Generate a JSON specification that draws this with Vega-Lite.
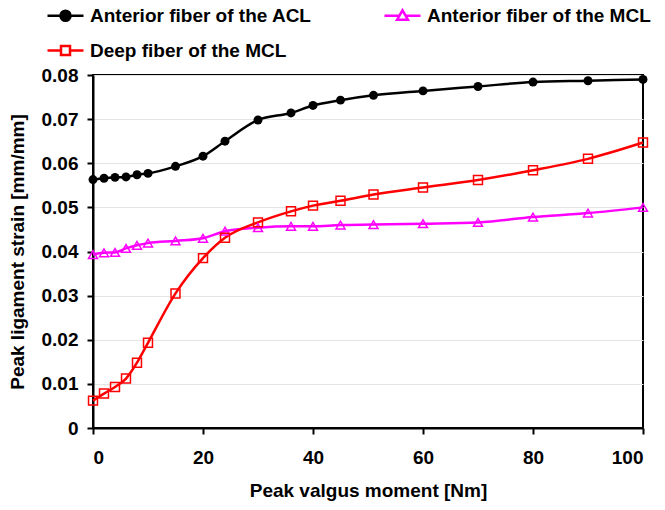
{
  "$schema": "https://vega.github.io/schema/vega-lite/v6.json",
  "autosize": "none",
  "width": 550,
  "height": 353,
  "padding": {"left": 93, "top": 75, "right": 22, "bottom": 82},
  "background": "white",
  "config": {
    "font": "Liberation Sans",
    "view": {"stroke": "black", "strokeWidth": 2},
    "axis": {
      "labelFont": "Liberation Sans", "labelFontWeight": "bold", "labelFontSize": 19, "labelColor": "black",
      "titleFont": "Liberation Sans", "titleFontWeight": "bold", "titleFontSize": 19, "titleColor": "black",
      "domainColor": "black", "domainWidth": 2, "tickColor": "black", "tickWidth": 2, "tickSize": 6
    },
    "legend": {
      "labelFont": "Liberation Sans", "labelFontWeight": "bold", "labelFontSize": 19, "labelColor": "black", "labelLimit": 400
    }
  },
  "data": {
    "values": [
      {"moment": 0, "series": "Anterior fiber of the ACL", "strain": 0.0563},
      {"moment": 2, "series": "Anterior fiber of the ACL", "strain": 0.0566},
      {"moment": 4, "series": "Anterior fiber of the ACL", "strain": 0.0568},
      {"moment": 6, "series": "Anterior fiber of the ACL", "strain": 0.0569},
      {"moment": 8, "series": "Anterior fiber of the ACL", "strain": 0.0574},
      {"moment": 10, "series": "Anterior fiber of the ACL", "strain": 0.0577},
      {"moment": 15, "series": "Anterior fiber of the ACL", "strain": 0.0593},
      {"moment": 20, "series": "Anterior fiber of the ACL", "strain": 0.0616},
      {"moment": 24, "series": "Anterior fiber of the ACL", "strain": 0.065},
      {"moment": 30, "series": "Anterior fiber of the ACL", "strain": 0.0698},
      {"moment": 36, "series": "Anterior fiber of the ACL", "strain": 0.0714},
      {"moment": 40, "series": "Anterior fiber of the ACL", "strain": 0.0731},
      {"moment": 45, "series": "Anterior fiber of the ACL", "strain": 0.0743},
      {"moment": 51, "series": "Anterior fiber of the ACL", "strain": 0.0754},
      {"moment": 60, "series": "Anterior fiber of the ACL", "strain": 0.0764},
      {"moment": 70, "series": "Anterior fiber of the ACL", "strain": 0.0774},
      {"moment": 80, "series": "Anterior fiber of the ACL", "strain": 0.0784},
      {"moment": 90, "series": "Anterior fiber of the ACL", "strain": 0.0787},
      {"moment": 100, "series": "Anterior fiber of the ACL", "strain": 0.079},
      {"moment": 0, "series": "Anterior fiber of the MCL", "strain": 0.0393},
      {"moment": 2, "series": "Anterior fiber of the MCL", "strain": 0.0397},
      {"moment": 4, "series": "Anterior fiber of the MCL", "strain": 0.0398},
      {"moment": 6, "series": "Anterior fiber of the MCL", "strain": 0.0407},
      {"moment": 8, "series": "Anterior fiber of the MCL", "strain": 0.0414},
      {"moment": 10, "series": "Anterior fiber of the MCL", "strain": 0.0419},
      {"moment": 15, "series": "Anterior fiber of the MCL", "strain": 0.0424},
      {"moment": 20, "series": "Anterior fiber of the MCL", "strain": 0.043},
      {"moment": 24, "series": "Anterior fiber of the MCL", "strain": 0.0446},
      {"moment": 30, "series": "Anterior fiber of the MCL", "strain": 0.0454},
      {"moment": 36, "series": "Anterior fiber of the MCL", "strain": 0.0457},
      {"moment": 40, "series": "Anterior fiber of the MCL", "strain": 0.0457},
      {"moment": 45, "series": "Anterior fiber of the MCL", "strain": 0.046},
      {"moment": 51, "series": "Anterior fiber of the MCL", "strain": 0.0461},
      {"moment": 60, "series": "Anterior fiber of the MCL", "strain": 0.0463},
      {"moment": 70, "series": "Anterior fiber of the MCL", "strain": 0.0466},
      {"moment": 80, "series": "Anterior fiber of the MCL", "strain": 0.0478},
      {"moment": 90, "series": "Anterior fiber of the MCL", "strain": 0.0487},
      {"moment": 100, "series": "Anterior fiber of the MCL", "strain": 0.05},
      {"moment": 0, "series": "Deep fiber of the MCL", "strain": 0.0062},
      {"moment": 2, "series": "Deep fiber of the MCL", "strain": 0.0078},
      {"moment": 4, "series": "Deep fiber of the MCL", "strain": 0.0093},
      {"moment": 6, "series": "Deep fiber of the MCL", "strain": 0.0112},
      {"moment": 8, "series": "Deep fiber of the MCL", "strain": 0.0148},
      {"moment": 10, "series": "Deep fiber of the MCL", "strain": 0.0193},
      {"moment": 15, "series": "Deep fiber of the MCL", "strain": 0.0305},
      {"moment": 20, "series": "Deep fiber of the MCL", "strain": 0.0385},
      {"moment": 24, "series": "Deep fiber of the MCL", "strain": 0.0431},
      {"moment": 30, "series": "Deep fiber of the MCL", "strain": 0.0466},
      {"moment": 36, "series": "Deep fiber of the MCL", "strain": 0.0491},
      {"moment": 40, "series": "Deep fiber of the MCL", "strain": 0.0504},
      {"moment": 45, "series": "Deep fiber of the MCL", "strain": 0.0515},
      {"moment": 51, "series": "Deep fiber of the MCL", "strain": 0.0529},
      {"moment": 60, "series": "Deep fiber of the MCL", "strain": 0.0545},
      {"moment": 70, "series": "Deep fiber of the MCL", "strain": 0.0562},
      {"moment": 80, "series": "Deep fiber of the MCL", "strain": 0.0584},
      {"moment": 90, "series": "Deep fiber of the MCL", "strain": 0.061},
      {"moment": 100, "series": "Deep fiber of the MCL", "strain": 0.0647}
    ]
  },
  "encoding": {
    "x": {
      "field": "moment", "type": "quantitative",
      "scale": {"domain": [0, 100], "nice": false},
      "axis": {"title": "Peak valgus moment [Nm]", "values": [0, 20, 40, 60, 80, 100], "grid": false, "labelPadding": 14, "titlePadding": 14}
    },
    "y": {
      "field": "strain", "type": "quantitative",
      "scale": {"domain": [0, 0.08], "nice": false},
      "axis": {
        "title": "Peak ligament strain [mm/mm]",
        "values": [0, 0.01, 0.02, 0.03, 0.04, 0.05, 0.06, 0.07, 0.08],
        "labelExpr": "datum.value == 0 ? '0' : format(datum.value, '.2f')",
        "grid": true, "gridColor": "#e4e4e4", "gridWidth": 1,
        "labelPadding": 9, "titlePadding": 14
      }
    }
  },
  "layer": [
    {
      "mark": {"type": "line", "interpolate": "monotone", "strokeWidth": 2.5},
      "encoding": {
        "color": {
          "field": "series", "type": "nominal",
          "scale": {"domain": ["Anterior fiber of the ACL", "Anterior fiber of the MCL", "Deep fiber of the MCL"], "range": ["black", "#ff00ff", "#ff0000"]},
          "legend": {
            "title": null, "orient": "none", "legendX": -47, "legendY": -79, "padding": 0, "columns": 2, "direction": "horizontal",
            "columnPadding": 67, "rowPadding": 5, "labelOffset": 5,
            "symbolSize": 1296, "symbolStrokeWidth": 2.5, "symbolFillColor": "transparent",
            "symbolType": {"expr": "datum.value === 'Anterior fiber of the ACL' ? 'M-1,0H1M0.28,0A0.28,0.28,0,1,1,-0.28,0A0.28,0.28,0,1,1,0.28,0M0.18,0A0.18,0.18,0,1,1,-0.18,0A0.18,0.18,0,1,1,0.18,0M0.08,0A0.08,0.08,0,1,1,-0.08,0A0.08,0.08,0,1,1,0.08,0' : datum.value === 'Anterior fiber of the MCL' ? 'M-1,0H-0.2M0.2,0H1M0,-0.3L0.3,0.22L-0.3,0.22Z' : 'M-1,0H-0.25M0.25,0H1M-0.25,-0.25H0.25V0.25H-0.25Z'"}
          }
        }
      }
    },
    {
      "transform": [{"filter": "datum.series === 'Anterior fiber of the ACL'"}],
      "mark": {"type": "point", "shape": "circle", "size": 80, "filled": true, "color": "black", "opacity": 1}
    },
    {
      "transform": [{"filter": "datum.series === 'Anterior fiber of the MCL'"}],
      "mark": {"type": "point", "shape": "triangle-up", "size": 80, "filled": false, "color": "#ff00ff", "strokeWidth": 1.5, "opacity": 1}
    },
    {
      "transform": [{"filter": "datum.series === 'Deep fiber of the MCL'"}],
      "mark": {"type": "point", "shape": "square", "size": 80, "filled": false, "color": "#ff0000", "strokeWidth": 1.5, "opacity": 1}
    }
  ]
}
